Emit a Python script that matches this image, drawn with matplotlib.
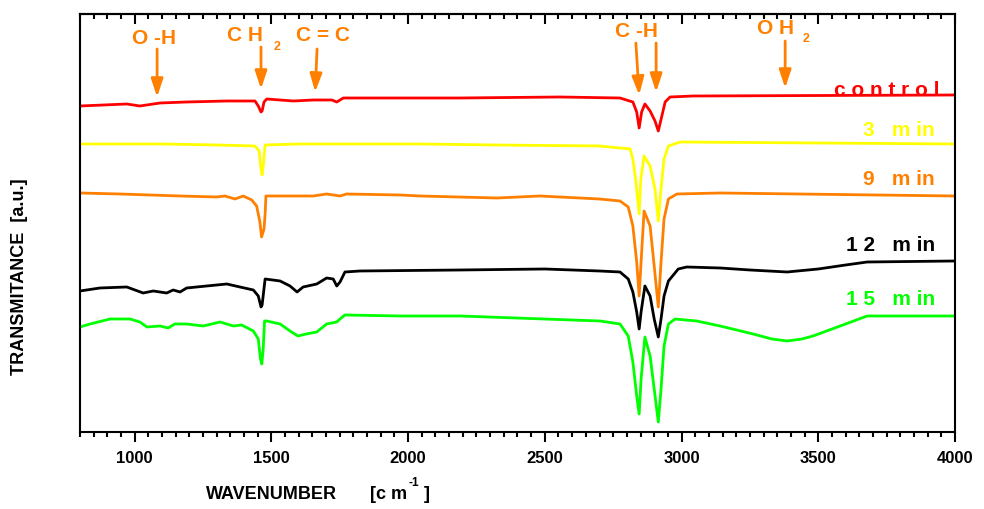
import matplotlib
matplotlib.use('Agg')
import matplotlib.pyplot as plt
from matplotlib.ticker import MultipleLocator

# FTIR spectra, transmittance in arbitrary units (curves are offset)
wn_control = [800, 971, 1019, 1093, 1190, 1337, 1440, 1452, 1462, 1466, 1473, 1483, 1580, 1653,
              1721, 1739, 1763, 2190, 2555, 2775, 2822, 2836, 2845, 2854, 2866, 2885, 2903, 2915,
              2928, 2940, 2958, 3043, 4000]
t_control = [326, 328, 326, 329, 330, 331, 331, 326, 320, 321, 330, 333, 331, 332,
             332, 330, 334, 334, 335, 334, 330, 320, 304, 320, 328, 321, 311, 301,
             316, 330, 335, 336, 337]

wn_3min = [800, 1100, 1300, 1440, 1455, 1462, 1466, 1471, 1477, 1600, 1750, 2043, 2325, 2700,
           2812, 2822, 2832, 2845, 2851, 2863, 2885, 2903, 2915, 2925, 2936, 2952, 2995, 3500, 4000]
t_3min = [288, 288, 287, 286, 281, 263, 257, 268, 287, 288, 288, 288, 287, 286,
          283, 273, 253, 218, 253, 276, 266, 243, 211, 243, 273, 286, 290, 289, 288]

wn_9min = [800, 946, 1166, 1300, 1330, 1367, 1397, 1428, 1446, 1458, 1464, 1473, 1477, 1480,
           1653, 1702, 1751, 1775, 1970, 2043, 2325, 2482, 2700, 2775, 2805, 2822, 2836, 2845,
           2852, 2863, 2885, 2900, 2915, 2925, 2936, 2952, 2983, 3141, 4000]
t_9min = [239, 238, 236, 235, 236, 233, 236, 232, 226, 210, 195, 203, 218, 236,
          236, 238, 236, 238, 237, 236, 234, 236, 233, 231, 225, 206, 170, 136,
          170, 221, 206, 166, 125, 170, 213, 233, 238, 239, 236]

wn_12min = [800, 873, 971, 1031, 1068, 1117, 1141, 1166, 1190, 1263, 1337, 1385, 1434, 1452,
            1462, 1466, 1477, 1532, 1568, 1594, 1616, 1666, 1702, 1726, 1739, 1751, 1769, 1824,
            2190, 2500, 2700, 2775, 2805, 2822, 2836, 2845, 2852, 2866, 2885, 2900, 2915, 2925,
            2936, 2952, 2964, 2988, 3019, 3141, 3250, 3386, 3500, 3600, 3679, 4000]
t_12min = [141, 144, 145, 139, 141, 139, 142, 140, 144, 146, 148, 145, 142, 136,
           125, 127, 153, 151, 146, 140, 145, 148, 154, 153, 146, 150, 160, 161,
           162, 163, 161, 160, 153, 140, 120, 103, 120, 146, 136, 113, 95, 113,
           136, 151, 155, 163, 165, 164, 162, 160, 163, 167, 170, 171]

wn_15min = [800, 837, 910, 983, 1019, 1045, 1093, 1122, 1147, 1190, 1251, 1312, 1361, 1391,
            1434, 1452, 1460, 1465, 1470, 1475, 1483, 1532, 1568, 1597, 1627, 1666, 1702, 1739,
            1751, 1769, 1970, 2190, 2702, 2775, 2805, 2822, 2836, 2845, 2852, 2866, 2885, 2900,
            2915, 2925, 2936, 2952, 2976, 3055, 3141, 3262, 3330, 3386, 3440, 3481, 3580, 3679, 4000]
t_15min = [105, 108, 113, 113, 110, 105, 106, 104, 108, 108, 106, 110, 106, 107,
           101, 93, 73, 68, 83, 111, 111, 108, 101, 96, 98, 100, 108, 110,
           113, 117, 116, 116, 111, 108, 96, 70, 36, 18, 53, 95, 76, 43,
           10, 43, 86, 108, 113, 111, 106, 98, 93, 91, 93, 96, 106, 116, 116]

# (x, t, colour, label, label y, label right edge)
series = [
    (wn_control, t_control, '#FF0000', 'c o n t r o l', 342, 3945),
    (wn_3min, t_3min, '#FFFF00', '3   m in', 302, 3927),
    (wn_9min, t_9min, '#FF8000', '9   m in', 253, 3927),
    (wn_12min, t_12min, '#000000', '1 2   m in', 187, 3927),
    (wn_15min, t_15min, '#00FF00', '1 5   m in', 133, 3927),
]

# band assignments: label, label x, label y, arrows (tail x, tip x, tail y, tip y)
bands = [
    ('O -H', 1070, 394, [(1082, 1082, 383, 335)]),
    ('C H', 1405, 397, [(1462, 1462, 385, 343)]),
    ('C = C', 1689, 397, [(1667, 1660, 383, 340)]),
    ('C -H', 2836, 401, [(2833, 2845, 389, 337), (2907, 2907, 389, 340)]),
    ('O H', 3342, 404, [(3379, 3379, 391, 344)]),
]
subscripts = [(1519, 386), (3457, 394)]
ticks = [1000, 1500, 2000, 2500, 3000, 3500, 4000]

orange = '#FF8000'
bold_font = ['Liberation Sans', 'DejaVu Sans']

fig = plt.figure(figsize=(9.84, 5.10), dpi=100)
ax = fig.add_axes([0.0813, 0.151, 0.8892, 0.8196])

for wn, t, col, lab, ly, lx in series:
    ax.plot(wn, t, color=col, lw=2.0, solid_joinstyle='round')
    ax.text(lx, ly, lab, color=col, fontsize=15, fontweight='bold',
            family=bold_font, ha='right', va='center')

for lab, lx, ly, arrows in bands:
    ax.text(lx, ly, lab, color=orange, fontsize=15, fontweight='bold',
            family=bold_font, ha='center', va='center')
    for x0, x1, y0, y1 in arrows:
        ax.annotate('', xy=(x1, y1), xytext=(x0, y0),
                    arrowprops=dict(arrowstyle='-|>,head_length=0.9,head_width=0.3',
                                    color=orange, lw=2.0,
                                    mutation_scale=12, shrinkA=0, shrinkB=0))
for sx, sy in subscripts:
    ax.text(sx, sy, '2', color=orange, fontsize=9, fontweight='bold',
            family=bold_font, ha='center', va='center')

ax.set_xlim(800, 4000)
ax.set_ylim(0, 418)
ax.set_yticks([])
ax.xaxis.set_minor_locator(MultipleLocator(50))
ax.set_xticks(ticks, [str(v) for v in ticks])
ax.tick_params(axis='x', which='both', direction='out', width=1.5)
ax.tick_params(axis='x', which='major', length=7, pad=6)
ax.tick_params(axis='x', which='minor', length=3.5)
for s in ax.spines.values():
    s.set_linewidth(1.5)

# top ticks point inwards
top = ax.secondary_xaxis('top')
top.xaxis.set_major_locator(MultipleLocator(500))
top.xaxis.set_minor_locator(MultipleLocator(50))
top.tick_params(axis='x', which='both', direction='in', width=1.5, labeltop=False)
top.tick_params(axis='x', which='major', length=7)
top.tick_params(axis='x', which='minor', length=3.5)
top.spines['top'].set_linewidth(1.5)

for lbl in ax.get_xticklabels():
    lbl.set_fontweight('bold')
    lbl.set_fontsize(12)
    lbl.set_family(bold_font)

fig.text(0.0203, 0.457, 'TRANSMITANCE  [a.u.]', rotation=90, fontsize=13,
         fontweight='bold', family=bold_font, ha='center', va='center')
fig.text(0.209, 0.03, 'WAVENUMBER', fontsize=13, fontweight='bold',
         family=bold_font, ha='left', va='center')
fig.text(0.376, 0.03, '[c m', fontsize=13, fontweight='bold',
         family=bold_font, ha='left', va='center')
fig.text(0.415, 0.052, '-1', fontsize=8.5, fontweight='bold',
         family=bold_font, ha='left', va='center')
fig.text(0.431, 0.03, ']', fontsize=13, fontweight='bold',
         family=bold_font, ha='left', va='center')

fig.savefig('out.png', dpi=100)
